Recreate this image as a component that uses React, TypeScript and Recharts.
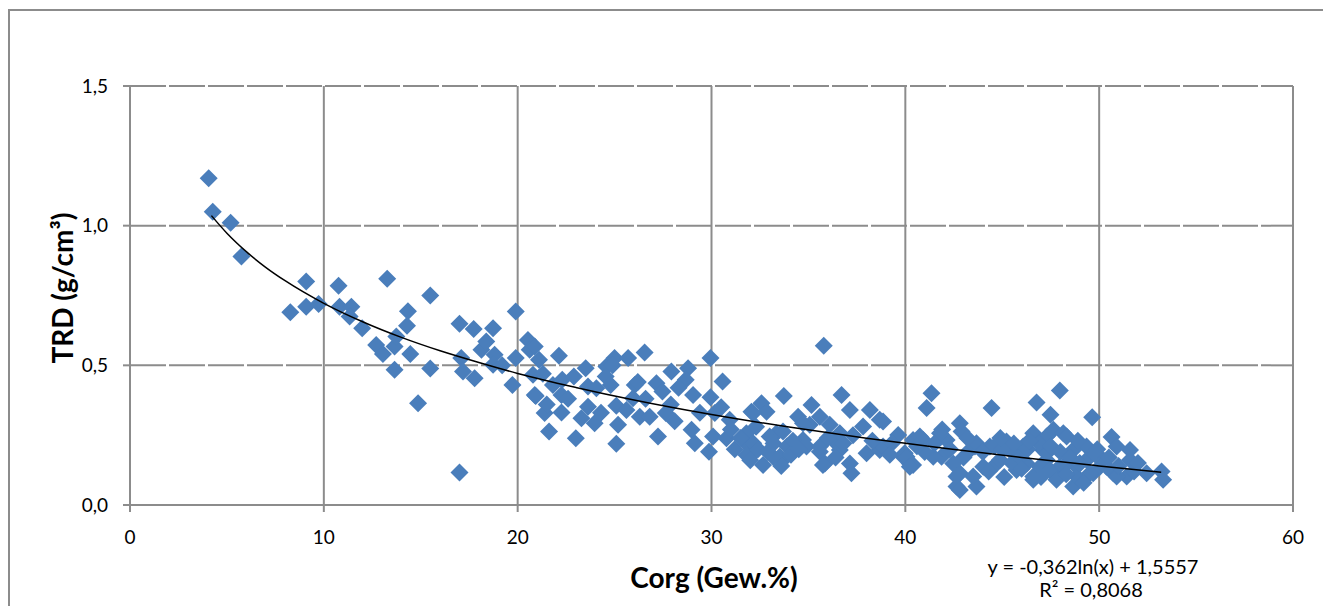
import React from 'react';
import { ScatterChart, Scatter, XAxis, YAxis, CartesianGrid } from 'recharts';

// Corg (Gew.%) values of the measured samples
const corg = [
  4.06, 4.27, 5.19, 5.75, 9.09, 8.27, 9.09, 9.73, 10.76, 13.27, 15.49, 10.81, 11.42, 11.33, 11.98,
  14.34, 14.29, 12.7, 13.05, 13.65, 13.74, 14.46, 13.65, 15.49, 14.86, 17.0, 17.0, 17.73, 18.73, 19.9,
  17.09, 17.18, 17.78, 18.13, 18.38, 18.81, 18.73, 19.9, 19.73, 20.53, 20.62, 20.79, 20.88,
  20.88, 21.1, 22.13, 20.93, 21.39, 21.62, 21.82, 22.3, 22.26, 22.26, 23.0, 23.51, 23.63, 24.06,
  23.63, 23.29, 23.97, 24.58, 25.0, 25.7, 26.55, 24.54, 25.09, 25.61, 25.18, 25.09, 26.04, 25.95,
  26.3, 26.81, 27.24, 27.16, 27.47, 27.64, 27.93, 28.79, 28.67, 29.05, 28.97, 29.14, 29.87, 29.95,
  29.95, 30.57, 30.17, 30.08, 30.77, 30.94, 32.06, 32.58, 32.84, 31.8, 32.15, 32.66, 33.18, 33.69,
  33.35, 33.73, 34.47, 35.16, 35.79, 35.59, 35.07, 36.71, 37.14, 35.85, 37.22, 37.14, 38.17, 37.82,
  38.85, 39.63, 36.27, 38.0, 38.68, 39.89, 40.23, 34.9, 35.59, 36.62,
  36.1, 32.15, 31.8, 32.15, 33.0, 33.69, 31.8, 33.52, 34.72, 35.59, 35.75, 38.68, 38.85, 40.4, 40.4,
  36.62, 34.72,
  41.35, 41.1, 44.45, 46.77, 47.97, 47.49, 49.64, 42.81, 42.9, 39.97, 40.92, 41.87, 42.13, 42.64,
  43.67, 42.81, 43.33, 43.59, 44.36, 45.22, 44.71, 45.74, 46.6, 46.6, 47.29, 47.64, 48.15, 48.66,
  48.84, 49.35, 49.69, 50.64, 50.9, 51.59, 50.73, 51.42, 52.45, 53.22, 53.3, 46.26, 47.29, 47.97,
  49.35, 50.04, 40.75, 41.79, 43.67, 47.11, 40.06, 40.23, 41.44, 42.47, 42.64, 42.81, 43.5, 44.02,
  44.88, 45.74, 46.6, 46.94, 45.4, 46.08, 48.32, 51.59, 47.46, 48.15, 48.84, 49.52, 50.38, 50.9,
  50.21, 47.29, 48.66,
  44.0, 44.6, 45.0, 45.5, 45.9, 46.3, 46.9, 47.5, 48.0, 48.5, 49.0, 49.8, 50.5, 51.0, 51.8, 52.0,
  44.3, 45.1, 46.0, 47.0, 47.8, 48.3, 49.2, 43.0, 42.3, 41.5, 41.0, 40.6, 39.3, 45.6, 44.9, 46.4,
  48.9, 49.9, 43.2, 41.9,
  31.2, 31.5, 32.4, 32.9, 33.2, 33.9, 34.2, 31.0, 32.3, 34.1, 33.6, 32.0, 34.5, 36.0, 36.8, 37.3,
  38.3, 39.2, 36.4,
  21.5, 22.6, 24.3, 24.8, 26.6, 27.9, 28.3, 24.9, 22.9, 19.2, 21.3, 28.1, 29.4, 30.5, 26.2,
];

// TRD (g/cm³) of the same samples
const trd = [
  1.17, 1.05, 1.01, 0.89, 0.8, 0.69, 0.71, 0.72, 0.785, 0.81, 0.75, 0.71, 0.71, 0.675, 0.633,
  0.694, 0.642, 0.573, 0.541, 0.567, 0.603, 0.541, 0.484, 0.489, 0.364, 0.116, 0.649, 0.63, 0.633, 0.693,
  0.526, 0.478, 0.454, 0.556, 0.585, 0.538, 0.502, 0.526, 0.43, 0.591, 0.556, 0.466, 0.394,
  0.567, 0.52, 0.534, 0.39, 0.329, 0.263, 0.43, 0.448, 0.394, 0.331, 0.239, 0.49, 0.424, 0.418,
  0.352, 0.311, 0.293, 0.496, 0.526, 0.526, 0.546, 0.46, 0.355, 0.34, 0.287, 0.219, 0.43, 0.382,
  0.316, 0.316, 0.245, 0.436, 0.406, 0.329, 0.478, 0.49, 0.448, 0.394, 0.269, 0.221, 0.191, 0.526,
  0.386, 0.442, 0.329, 0.245, 0.239, 0.305, 0.334, 0.364, 0.334, 0.221, 0.185, 0.143, 0.173, 0.161,
  0.257, 0.39, 0.316, 0.358, 0.57, 0.316, 0.287, 0.394, 0.34, 0.149, 0.114, 0.149, 0.34, 0.281,
  0.299, 0.251, 0.233, 0.185, 0.197, 0.173, 0.149, 0.209, 0.191, 0.197,
  0.287, 0.329, 0.257, 0.221, 0.245, 0.263, 0.179, 0.173, 0.233, 0.209, 0.143, 0.305, 0.209, 0.143, 0.233,
  0.257, 0.293,
  0.4, 0.347, 0.347, 0.367, 0.41, 0.323, 0.314, 0.293, 0.263, 0.185, 0.233, 0.173, 0.233, 0.066,
  0.066, 0.114, 0.197, 0.209, 0.209, 0.227, 0.149, 0.185, 0.257, 0.09, 0.245, 0.269, 0.257, 0.066,
  0.137, 0.209, 0.114, 0.243, 0.209, 0.197, 0.114, 0.102, 0.114, 0.12, 0.09, 0.149, 0.161, 0.137,
  0.161, 0.137, 0.245, 0.257, 0.221, 0.197, 0.173, 0.137, 0.173, 0.149, 0.102, 0.054, 0.102, 0.137,
  0.161, 0.125, 0.102, 0.137, 0.197, 0.209, 0.245, 0.161, 0.125, 0.137, 0.102, 0.114, 0.137, 0.102,
  0.161, 0.185, 0.197,
  0.19, 0.21, 0.2, 0.15, 0.17, 0.2, 0.22, 0.21, 0.19, 0.17, 0.15, 0.18, 0.17, 0.14, 0.12, 0.15,
  0.12, 0.1, 0.13, 0.1, 0.09, 0.11, 0.08, 0.17, 0.2, 0.22, 0.19, 0.21, 0.22, 0.22, 0.24, 0.23,
  0.23, 0.2, 0.24, 0.27,
  0.2, 0.24, 0.2, 0.19, 0.22, 0.21, 0.23, 0.27, 0.28, 0.18, 0.14, 0.16, 0.2, 0.24, 0.22, 0.25,
  0.23, 0.18, 0.17,
  0.36, 0.38, 0.33, 0.43, 0.38, 0.36, 0.42, 0.5, 0.46, 0.5, 0.47, 0.3, 0.33, 0.35, 0.44,
];

// logarithmic trend line: y = -0,362ln(x) + 1,5557
const trendX = [4.2, 5, 6, 7, 8, 10, 12, 14, 16, 18, 20, 23, 26, 30, 34, 38, 42, 46, 50, 53.2];
const trendY = [1.036, 0.973, 0.907, 0.851, 0.803, 0.722, 0.656, 0.6, 0.552, 0.51, 0.471, 0.421, 0.376, 0.324, 0.279, 0.239, 0.203, 0.17, 0.14, 0.117];

const xTicks = [0, 10, 20, 30, 40, 50, 60];
const yTicks = [0, 0.5, 1, 1.5];

const points = corg.map((x, i) => ({ x, y: trd[i] }));
const trend = trendX.map((x, i) => ({ x, y: trendY[i] }));

const GRAY = '#8c8c8c';
const FONT = 'Lato, "Open Sans", sans-serif';

const Diamond = (props: any) => {
  const { cx, cy } = props;
  const r = 9;
  return <path d={`M${cx},${cy - r}L${cx + r},${cy}L${cx},${cy + r}L${cx - r},${cy}Z`} fill="#4a7ebb" />;
};

const tickStyle = { fill: '#000', fontSize: 19, fontFamily: FONT };

export default function App() {
  return (
    <div style={{ position: 'absolute', left: 0, top: 0, width: 1323, height: 606, overflow: 'hidden', background: '#fff', fontFamily: FONT }}>
      <div style={{ position: 'absolute', left: 8, top: 9, width: 1340, height: 620, border: `2px solid ${GRAY}`, boxSizing: 'border-box' }} />
      <ScatterChart width={1323} height={606} margin={{ top: 86, right: 30, bottom: 61, left: 0 }}>
        <CartesianGrid horizontal={false} stroke={GRAY} strokeWidth={2} />
        <CartesianGrid vertical={false} stroke={GRAY} strokeWidth={2} strokeDasharray="36 3" />
        <XAxis
          type="number"
          dataKey="x"
          domain={[0, 60]}
          ticks={xTicks}
          height={40}
          tickSize={7}
          tickMargin={19}
          axisLine={{ stroke: GRAY, strokeWidth: 2 }}
          tickLine={{ stroke: GRAY, strokeWidth: 2 }}
          tick={tickStyle}
        />
        <YAxis
          type="number"
          dataKey="y"
          domain={[0, 1.5]}
          ticks={yTicks}
          width={130}
          tickSize={7}
          tickMargin={15}
          tickFormatter={(v: number) => v.toFixed(1).replace('.', ',')}
          axisLine={{ stroke: GRAY, strokeWidth: 2 }}
          tickLine={{ stroke: GRAY, strokeWidth: 2 }}
          tick={tickStyle}
        />
        <Scatter data={points} shape={Diamond} isAnimationActive={false} />
        <Scatter
          data={trend}
          line={{ stroke: '#000', strokeWidth: 1.5 }}
          lineJointType="monotoneX"
          shape={() => <g />}
          isAnimationActive={false}
        />
      </ScatterChart>
      <div style={{ position: 'absolute', left: 62, top: 288, transform: 'translate(-50%, -50%) rotate(-90deg)', fontWeight: 700, fontSize: 28, whiteSpace: 'nowrap', lineHeight: 1 }}>
        TRD (g/cm³)
      </div>
      <div style={{ position: 'absolute', left: 714, top: 577, transform: 'translate(-50%, -50%)', fontWeight: 700, fontSize: 28, whiteSpace: 'nowrap', lineHeight: 1 }}>
        Corg (Gew.%)
      </div>
      <div style={{ position: 'absolute', left: 1093, top: 566, transform: 'translate(-50%, -50%)', fontSize: 20, whiteSpace: 'nowrap', lineHeight: 1 }}>
        y = -0,362ln(x) + 1,5557
      </div>
      <div style={{ position: 'absolute', left: 1091, top: 589, transform: 'translate(-50%, -50%)', fontSize: 20, whiteSpace: 'nowrap', lineHeight: 1 }}>
        R² = 0,8068
      </div>
    </div>
  );
}
